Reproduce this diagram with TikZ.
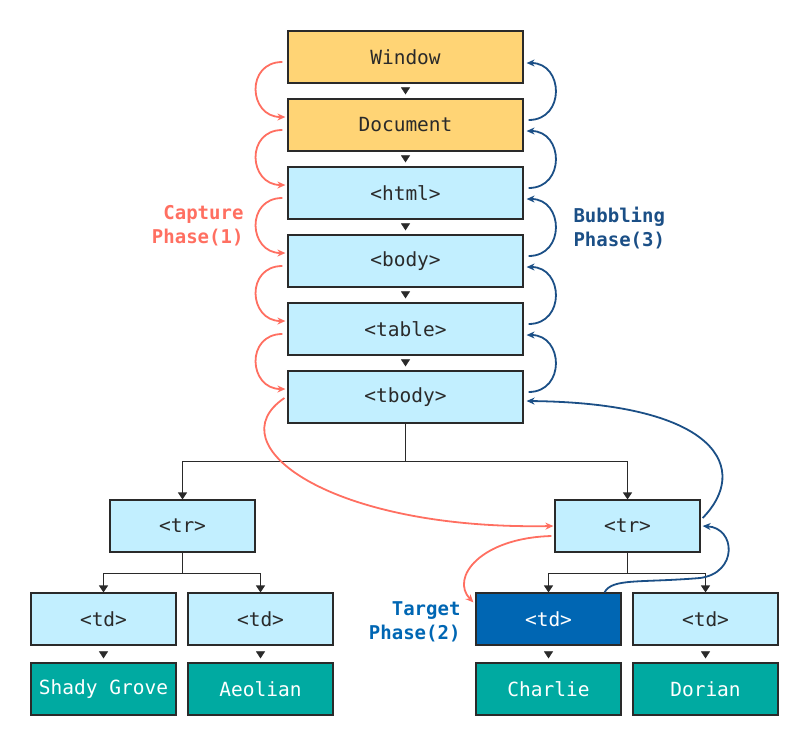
\documentclass[tikz,border=0pt]{standalone}
\usepackage{fontspec}
\setmonofont{DejaVu Sans Mono}
\usetikzlibrary{arrows.meta,calc}
\definecolor{ylw}{HTML}{FFD475}
\definecolor{lblue}{HTML}{C2EFFF}
\definecolor{dblue}{HTML}{0066B3}
\definecolor{teal}{HTML}{00AAA1}
\definecolor{capred}{HTML}{FF6F61}
\definecolor{bubblue}{HTML}{1B4F86}
\definecolor{dark}{HTML}{2A2A2A}
\begin{document}
\begin{tikzpicture}[x=1pt,y=-1pt,
  font=\ttfamily\fontsize{19.5}{24}\selectfont,
  box/.style={draw=dark,line width=1.2pt,minimum width=235pt,minimum height=52pt,inner sep=0pt,text=dark},
  sbox/.style={draw=dark,line width=1.2pt,minimum width=145pt,minimum height=52pt,inner sep=0pt,text=dark},
  gaparrow/.style={draw=white,line width=0.5pt,shorten <=5pt,shorten >=4pt,-{Triangle[width=9pt,length=7pt,color=dark]}},
  tree/.style={draw=dark,line width=1.2pt,-{Triangle[width=9pt,length=7pt]}},
  treeline/.style={draw=dark,line width=1.2pt},
  capt/.style={draw=capred,line width=1.8pt,-{Stealth[length=8pt,width=7pt]}},
  bubb/.style={draw=bubblue,line width=1.8pt,-{Stealth[length=8pt,width=7pt]}},
  lbl/.style={font=\ttfamily\bfseries\fontsize{19}{24}\selectfont}
]
\useasboundingbox (0,0) rectangle (811,748);

% main column
\node[box,fill=ylw] (w) at (405.5,57) {Window};
\node[box,fill=ylw] (d) at (405.5,125) {Document};
\node[box,fill=lblue] (h) at (405.5,193) {<html>};
\node[box,fill=lblue] (b) at (405.5,261) {<body>};
\node[box,fill=lblue] (t) at (405.5,329) {<table>};
\node[box,fill=lblue] (tb) at (405.5,397) {<tbody>};

% rows
\node[sbox,fill=lblue] (trl) at (182.5,526) {<tr>};
\node[sbox,fill=lblue] (trr) at (627.5,526) {<tr>};

% cells
\node[sbox,fill=lblue] (td1) at (103.5,619) {<td>};
\node[sbox,fill=lblue] (td2) at (260.5,619) {<td>};
\node[sbox,fill=dblue,text=white] (td3) at (548.5,619) {<td>};
\node[sbox,fill=lblue] (td4) at (705.5,619) {<td>};

% leaves
\node[sbox,fill=teal,text=white] (l1) at (103.5,689) {Shady Grove};
\node[sbox,fill=teal,text=white] (l2) at (260.5,689) {Aeolian};
\node[sbox,fill=teal,text=white] (l3) at (548.5,689) {Charlie};
\node[sbox,fill=teal,text=white] (l4) at (705.5,689) {Dorian};

% gap arrows
\draw[gaparrow] (w.south) -- (d.north);
\draw[gaparrow] (d.south) -- (h.north);
\draw[gaparrow] (h.south) -- (b.north);
\draw[gaparrow] (b.south) -- (t.north);
\draw[gaparrow] (t.south) -- (tb.north);
\draw[gaparrow] (td1.south) -- (l1.north);
\draw[gaparrow] (td2.south) -- (l2.north);
\draw[gaparrow] (td3.south) -- (l3.north);
\draw[gaparrow] (td4.south) -- (l4.north);

% tree connectors
\coordinate (j0) at ($(tb.south)+(0,38)$);
\draw[treeline] (tb.south) -- (j0);
\draw[tree] (j0) -| (trl.north);
\draw[tree] (j0) -| (trr.north);
\coordinate (j1) at ($(trl.south)+(0,21)$);
\draw[treeline] (trl.south) -- (j1);
\draw[tree] (j1) -| (td1.north);
\draw[tree] (j1) -| (td2.north);
\coordinate (j2) at ($(trr.south)+(0,21)$);
\draw[treeline] (trr.south) -- (j2);
\draw[tree] (j2) -| (td3.north);
\draw[tree] (j2) -| (td4.north);

% capture arcs
\foreach \a/\bb in {w/d,d/h,h/b,b/t,t/tb}{
  \draw[capt] ($(\a.west)+(-5,5)$) .. controls +(-37,0) and +(-37,0) .. ($(\bb.west)+(-2,-8)$);
  \draw[bubb] ($(\bb.east)+(5,-5)$) .. controls +(37,0) and +(37,0) .. ($(\a.east)+(3,6)$);
}

% long capture and bubbling
\draw[capt] ($(tb.west)+(-3,1)$) .. controls (215,445) and (330,530) .. ($(trr.west)+(-1,0)$);
\draw[capt] ($(trr.west)+(-3,10)$) .. controls (480,538) and (450,578) .. ($(td3.north west)+(-2,10)$);
\draw[bubb] ($(trr.east)+(2,-8)$) .. controls (750,470) and (720,403) .. ($(tb.east)+(3,4)$);
\draw[bubb] ($(td3.north)+(56,0)$) .. controls (612,578) and (640,583) .. (700,578) .. controls (738,573) and (736,528) .. ($(trr.east)+(2,0)$);

% labels
\node[lbl,text=capred,align=right,anchor=east] (cap) at (247,226) {Capture\\Phase(1)};
\node[lbl,text=bubblue,align=left,anchor=west] (bub) at (570,228) {Bubbling\\Phase(3)};
\node[lbl,text=dblue,align=right,anchor=east] (tgt) at (464,622) {Target\\Phase(2)};
\end{tikzpicture}
\end{document}
